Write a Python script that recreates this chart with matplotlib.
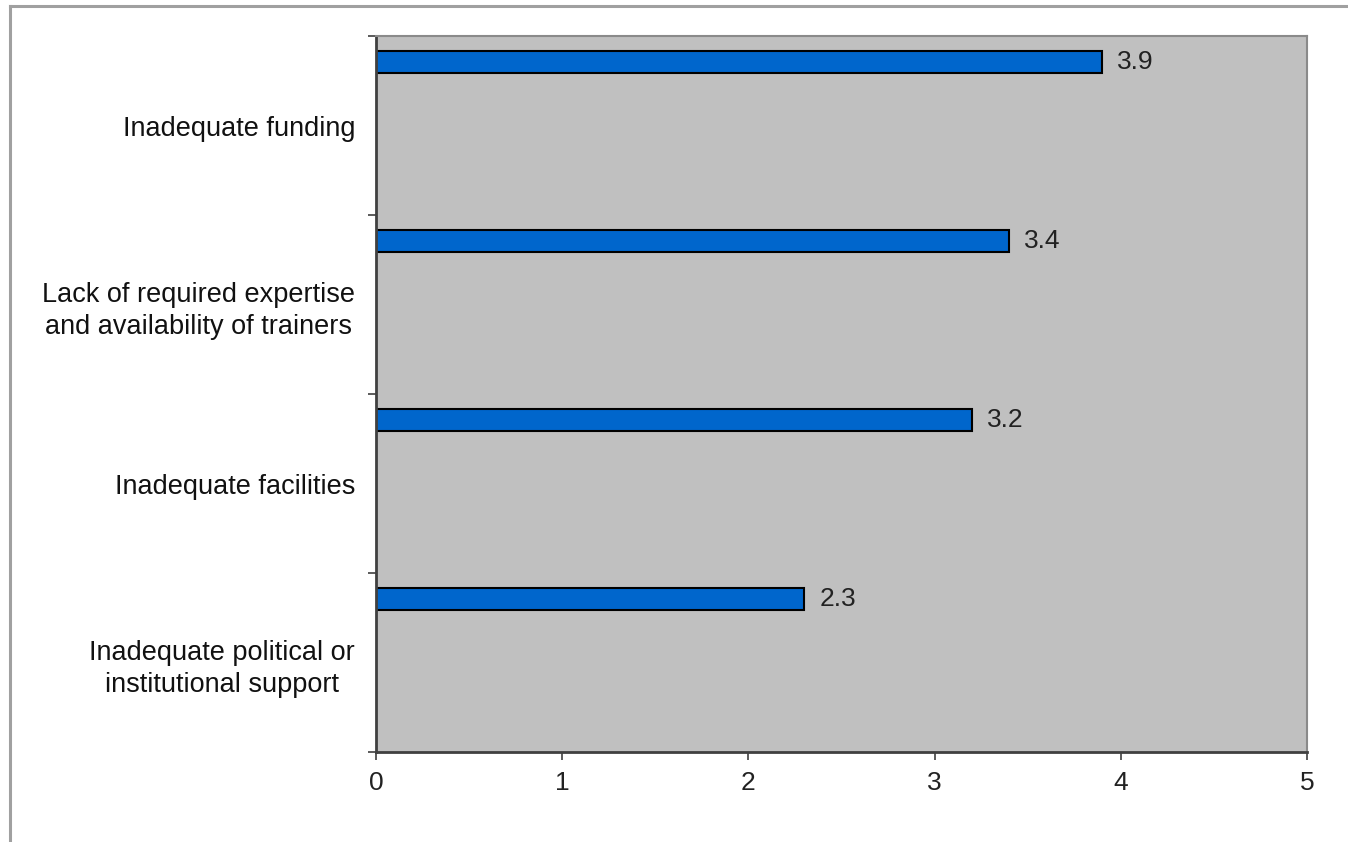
import matplotlib.pyplot as plt
from matplotlib.lines import Line2D

categories = ["Inadequate funding",
              "Lack of required expertise\nand availability of trainers",
              "Inadequate facilities",
              "Inadequate political or\ninstitutional support"]
values = [3.9, 3.4, 3.2, 2.3]
value_labels = ["3.9", "3.4", "3.2", "2.3"]
x_ticks = [0, 1, 2, 3, 4, 5]

plt.rcParams['font.family'] = ['Liberation Sans', 'DejaVu Sans']

fig = plt.figure(figsize=(13.48, 8.42), dpi=100)
ax = fig.add_axes([376 / 1348, 1 - 752 / 842, (1307 - 376) / 1348, (752 - 36) / 842])
ax.set_facecolor('#c0c0c0')

# thin bars sitting near the top of each category band
pos = [i - 0.355 for i in range(len(categories))]
ax.barh(pos, values, height=0.125, color='#0066cc', edgecolor='black', linewidth=1.5)

for p, v, lab in zip(pos, values, value_labels):
    ax.text(v + 0.08, p, lab, va='center', ha='left', fontsize=19, color='#222222')

ax.set_xlim(0, 5)
ax.set_ylim(len(categories) - 0.5, -0.5)
ax.set_xticks(x_ticks)
ax.set_xticklabels([str(t) for t in x_ticks], fontsize=19, color='#222222')

# category boundaries get the tick marks, labels sit in the middle
ax.set_yticks([i - 0.5 for i in range(len(categories) + 1)])
ax.set_yticklabels([])
ax.set_yticks(range(len(categories)), minor=True)
ax.set_yticklabels(categories, minor=True, fontsize=19.5, color='#111111',
                   multialignment='center', linespacing=1.3)
ax.tick_params(axis='y', which='minor', length=0, pad=15)
ax.tick_params(axis='y', which='major', length=6, width=1.2, color='#404040')
ax.tick_params(axis='x', length=6, width=1.2, color='#404040', pad=8)

for s in ['left', 'bottom']:
    ax.spines[s].set_color('#404040')
    ax.spines[s].set_linewidth(2)
for s in ['top', 'right']:
    ax.spines[s].set_color('#8a8a8a')
    ax.spines[s].set_linewidth(1.5)

# outer chart frame (only top and left edges show)
fig.add_artist(Line2D([9.5 / 1348, 1.0], [1 - 5.5 / 842] * 2, color='#a0a0a0', linewidth=2.2))
fig.add_artist(Line2D([9.5 / 1348] * 2, [0.0, 1 - 5.5 / 842], color='#a0a0a0', linewidth=2.2))

fig.savefig('out.png', dpi=100)
